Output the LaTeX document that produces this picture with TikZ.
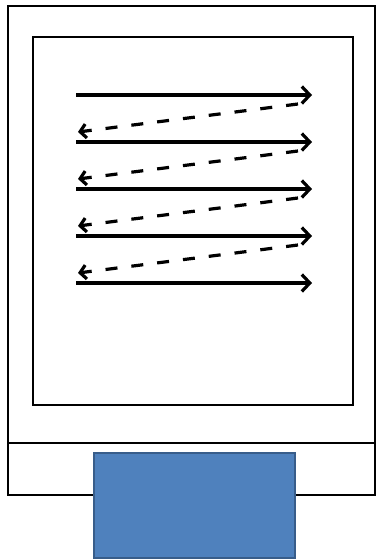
\documentclass[tikz,border=0pt]{standalone}
\usepackage{tikz}
\usetikzlibrary{arrows.meta}
\definecolor{boxblue}{RGB}{79, 129, 189}
\definecolor{boxedge}{RGB}{56, 93, 138}

\begin{document}
\begin{tikzpicture}[x=1pt, y=-1pt,
    frame/.style={line width=2.4pt},
    fwd/.style={line width=3.2pt, -{Straight Barb[length=8pt, width=17pt]}},
    back/.style={line width=3.2pt, dash pattern=on 12pt off 14pt, -{Straight Barb[length=6pt, width=14pt]}}]
            \useasboundingbox (0, 0) rectangle (377, 560);
            % Outer frame and divider
            \draw[frame] (8, 6) rectangle (375, 495);
            \draw[frame] (8, 443) -- (375, 443);
            % Inner screen
            \draw[line width=2.8pt] (33, 37) rectangle (353, 405);
            % Scan lines
            \foreach \i in {0, ..., 4} {
                \coordinate (l\i) at (76, 95 + 47*\i);
                \coordinate (r\i) at (312, 95 + 47*\i);
                \draw[fwd] (l\i) -- (r\i);
            }
            % Return lines
            \foreach \i in {0, ..., 3} {
                \coordinate (ds\i) at (298, 104 + 47*\i);
                \coordinate (de\i) at (78, 132 + 47*\i);
                \draw[back] (ds\i) -- (de\i);
            }
            % Base block
            \draw[boxedge, fill=boxblue, line width=1.4pt] (94, 453) rectangle (295, 558);
        \end{tikzpicture}
\end{document}
